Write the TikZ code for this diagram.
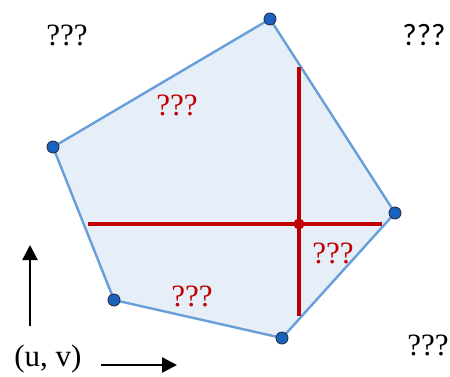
\documentclass[tikz,border=0pt]{standalone}
\usepackage{fontspec}
\setmainfont{Liberation Serif}
\newfontfamily\labelsans{Carlito}
\usetikzlibrary{arrows.meta, positioning}
\definecolor{polyfill}{RGB}{230,238,248}
\definecolor{polyedge}{RGB}{104,158,218}
\definecolor{vtxfill}{RGB}{26,98,192}
\definecolor{vtxedge}{RGB}{40,50,70}
\definecolor{myred}{RGB}{192,0,0}
\tikzset{
  vertex/.style={circle, draw=vtxedge, fill=vtxfill, inner sep=0pt,
    minimum size=12pt, line width=0.9pt},
  hitdot/.style={circle, fill=myred, inner sep=0pt, minimum size=11pt},
  polyshape/.style={draw=polyedge, fill=polyfill, line width=2.4pt, line join=round},
  redline/.style={myred, line width=3.8pt},
  axis/.style={-{Triangle[length=15pt, width=15pt]}, line width=2.4pt},
  blacklabel/.style={font=\fontsize{31}{35}\selectfont},
  sanslabel/.style={font=\labelsans\fontsize{31}{35}\selectfont},
  redlabel/.style={font=\fontsize{31}{35}\selectfont, text=myred}
}

\begin{document}
\begin{tikzpicture}[x=1pt, y=-1pt]
  \useasboundingbox (0,0) rectangle (450,376);
  % pentagon corners
  \coordinate (p1) at (270,19);
  \coordinate (p2) at (395,213);
  \coordinate (p3) at (282,338);
  \coordinate (p4) at (114,300);
  \coordinate (p5) at (53,147);
  \draw[polyshape] (p1) -- (p2) -- (p3) -- (p4) -- (p5) -- cycle;
  % red cross
  \coordinate (hl) at (88,224);
  \coordinate (hr) at (382,224);
  \coordinate (vt) at (299,67);
  \coordinate (vb) at (299,316);
  \draw[redline] (hl) -- (hr);
  \draw[redline] (vt) -- (vb);
  \node[hitdot] (hit) at (299,224) {};
  % corner dots
  \node[vertex] (v1) at (p1) {};
  \node[vertex] (v2) at (p2) {};
  \node[vertex] (v3) at (p3) {};
  \node[vertex] (v4) at (p4) {};
  \node[vertex] (v5) at (p5) {};
  % labels
  \node[blacklabel] (tl) at (67,35) {???};
  \node[sanslabel] (tr) at (424,35) {???};
  \node[blacklabel] (br) at (428,345) {???};
  \node[redlabel] (rtop) at (177,105) {???};
  \node[redlabel] (rmid) at (333,253) {???};
  \node[redlabel] (rbot) at (192,296) {???};
  \node[blacklabel] (uv) at (48,359) {(u, v)};
  % direction arrows
  \coordinate (ub) at (30,326);
  \coordinate (ut) at (30,245);
  \coordinate (rl) at (101,365);
  \coordinate (rr) at (177,365);
  \draw[axis] (ub) -- (ut);
  \draw[axis] (rl) -- (rr);
\end{tikzpicture}
\end{document}
